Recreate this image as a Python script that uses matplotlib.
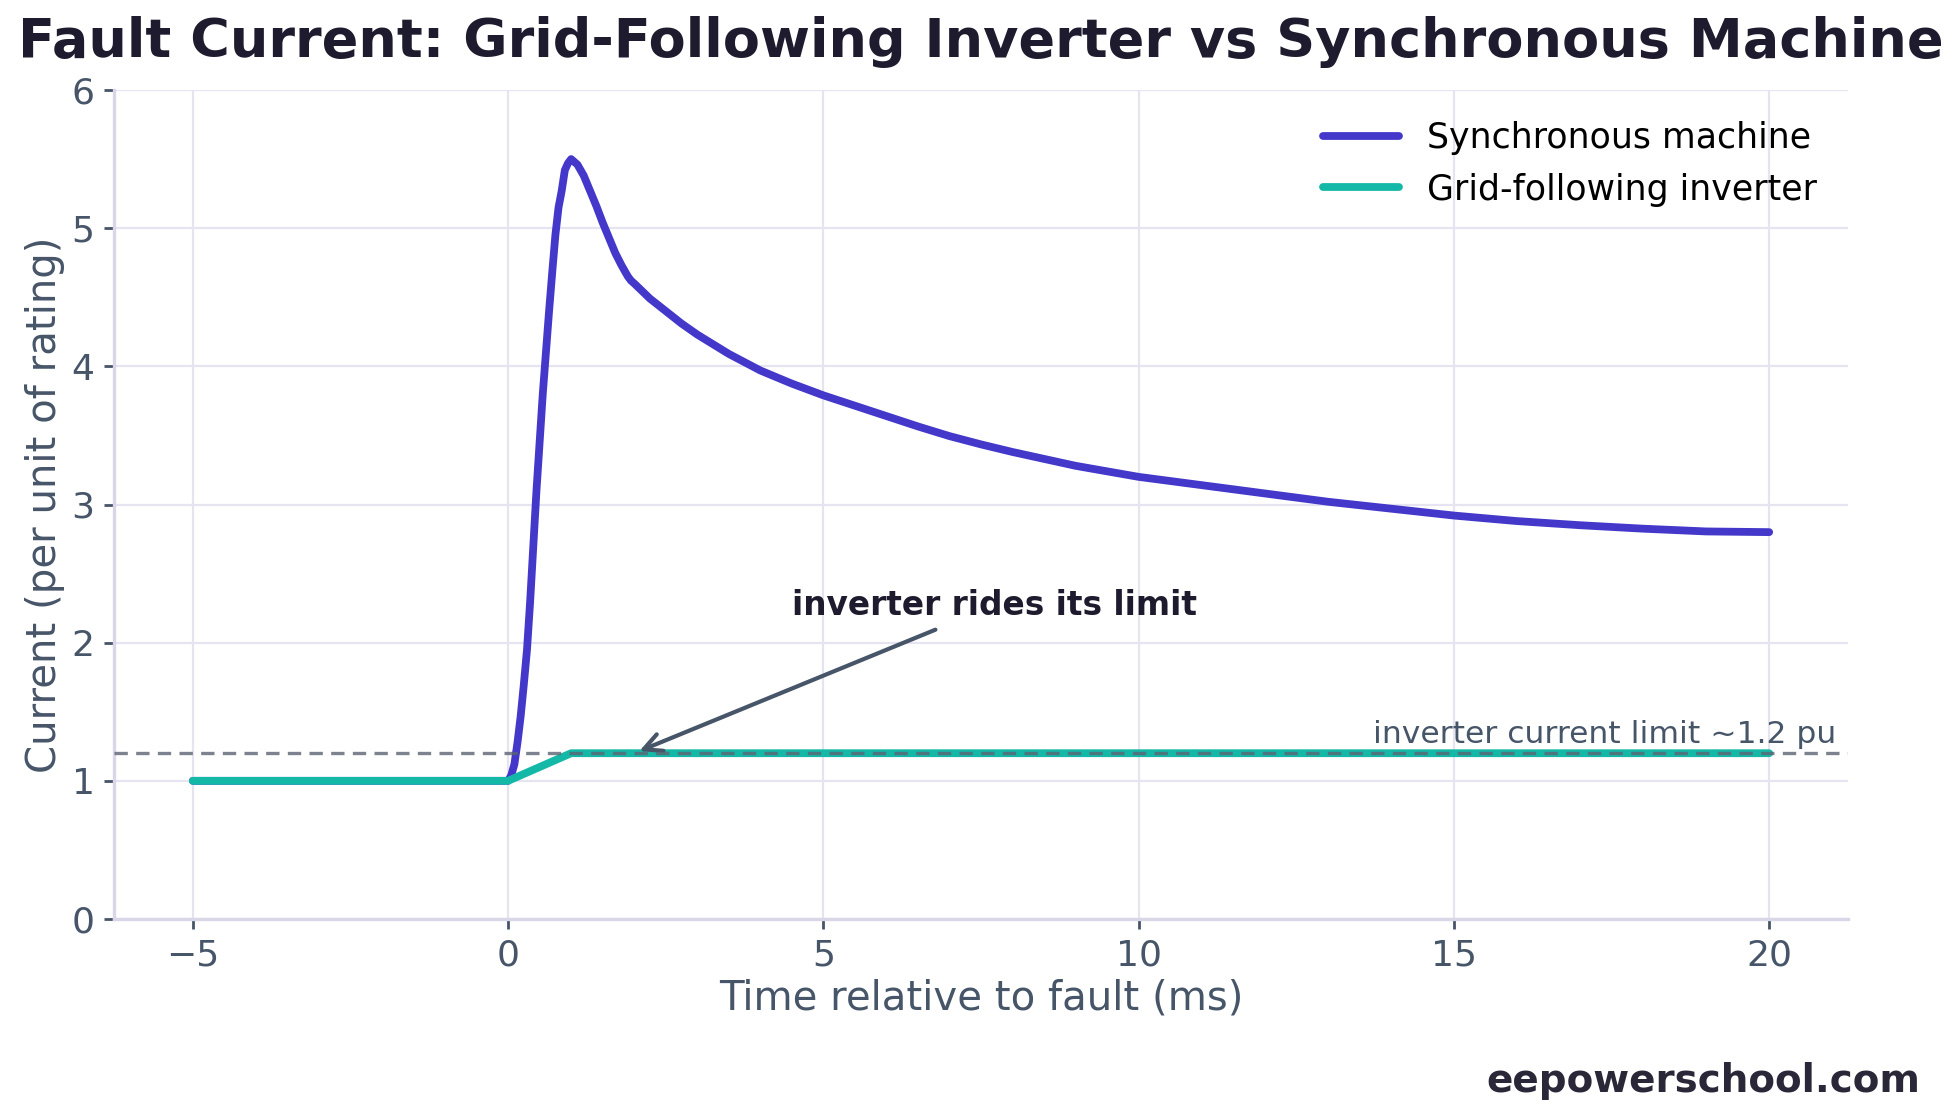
import matplotlib
matplotlib.use("Agg")
import matplotlib.pyplot as plt

plt.rcParams['font.family'] = ['DejaVu Sans']

# ---- data ----
t_sync = [-5, 0, 0.05, 0.1, 0.15, 0.2, 0.25, 0.3, 0.35, 0.4, 0.45, 0.5, 0.55, 0.6,
          0.65, 0.7, 0.75, 0.8, 0.85, 0.9, 0.95, 1.0, 1.05, 1.1, 1.2, 1.3, 1.4, 1.5,
          1.6, 1.7, 1.8, 1.9, 1.95, 2.0, 2.25, 2.5, 2.75, 3, 3.5, 4, 4.5, 5, 5.5, 6,
          6.5, 7, 7.5, 8, 9, 10, 11, 12, 13, 14, 15, 16, 17, 18, 19, 20]
i_sync = [1.0, 1.0, 1.04, 1.12, 1.28, 1.47, 1.7, 1.95, 2.3, 2.7, 3.1, 3.45, 3.8, 4.1,
          4.4, 4.68, 4.95, 5.15, 5.27, 5.42, 5.47, 5.5, 5.48, 5.46, 5.38, 5.27, 5.16, 5.04,
          4.93, 4.82, 4.73, 4.65, 4.62, 4.60, 4.49, 4.40, 4.31, 4.23, 4.09, 3.97, 3.875,
          3.79, 3.715, 3.64, 3.565, 3.495, 3.435, 3.38, 3.28, 3.20, 3.14, 3.08, 3.02, 2.97,
          2.92, 2.88, 2.85, 2.825, 2.805, 2.80]

t_inv = [-5, 0, 1, 20]
i_inv = [1.0, 1.0, 1.2, 1.2]

limit_pu = 1.2

xticks = [-5, 0, 5, 10, 15, 20]
yticks = [0, 1, 2, 3, 4, 5, 6]

title = "Fault Current: Grid-Following Inverter vs Synchronous Machine"
xlabel = "Time relative to fault (ms)"
ylabel = "Current (per unit of rating)"
sync_label = "Synchronous machine"
inv_label = "Grid-following inverter"
limit_text = "inverter current limit ~1.2 pu"
annot_text = "inverter rides its limit"
watermark = "eepowerschool.com"

# ---- style ----
C_SYNC = "#4338ca"
C_INV = "#14b8a6"
C_DARK = "#1e1b2e"
C_SLATE = "#475569"
C_SPINE = "#d9d6e8"
C_GRID = "#e6e4f0"

W, H, DPI = 1958, 1113, 200
fig = plt.figure(figsize=(W / DPI, H / DPI), dpi=DPI)
ax = fig.add_axes([114 / W, 1 - 919 / H, (1848 - 114) / W, (919 - 90) / H])

ax.plot(t_sync, i_sync, color=C_SYNC, lw=2.8, label=sync_label, zorder=3,
        solid_capstyle='round', solid_joinstyle='round')
ax.plot(t_inv, i_inv, color=C_INV, lw=2.8, label=inv_label, zorder=3,
        solid_capstyle='round', solid_joinstyle='round')
ax.axhline(limit_pu, color="#5b6473", lw=1.2, ls=(0, (4, 2.5)), alpha=0.8, zorder=4)

ax.text(0.993, limit_pu + 0.03, limit_text, transform=ax.get_yaxis_transform(),
        ha='right', va='bottom', fontsize=11.3, color=C_SLATE)

ax.annotate(annot_text, xy=(2, limit_pu), xytext=(4.5, 2.2),
            fontsize=11.8, fontweight='bold', color=C_DARK,
            arrowprops=dict(arrowstyle='->', color=C_SLATE, lw=1.5,
                            mutation_scale=16))

ax.set_ylim(0, 6)
ax.set_xticks(xticks)
ax.set_yticks(yticks)
ax.grid(True, color=C_GRID, lw=0.8)
ax.set_axisbelow(True)
for s in ['top', 'right']:
    ax.spines[s].set_visible(False)
for s in ['left', 'bottom']:
    ax.spines[s].set_color(C_SPINE)
    ax.spines[s].set_linewidth(1.2)
ax.tick_params(colors=C_SLATE, labelsize=13, length=3.5, width=1.0)

ax.set_xlabel(xlabel, fontsize=14.5, color=C_SLATE, labelpad=2.2)
ax.set_ylabel(ylabel, fontsize=14.5, color=C_SLATE, labelpad=2.5)

leg = ax.legend(loc='upper right', frameon=False, fontsize=12.5, handlelength=2.2)

fig.text(981 / W, 1 - 57 / H, title, ha='center', va='baseline',
         fontsize=19.5, fontweight='bold', color=C_DARK)
fig.text(1920 / W, 1 - 1092 / H, watermark, ha='right', va='baseline',
         fontsize=14, fontweight='bold', color="#2a2838")

fig.savefig("out.png", dpi=DPI)
